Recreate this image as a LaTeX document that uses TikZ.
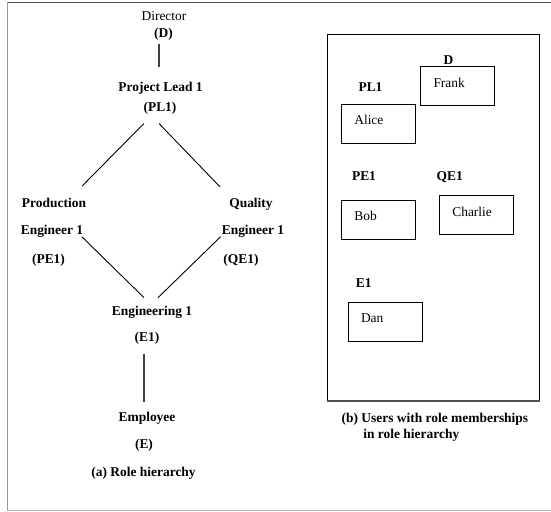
\documentclass[tikz,border=0pt]{standalone}
\usepackage{fontspec}
\setmainfont{Liberation Serif}
\usetikzlibrary{calc,positioning}
\definecolor{frameDark}{HTML}{505050}
\definecolor{frameGray}{HTML}{9A9A9A}
\definecolor{frameLight}{HTML}{BBBBBB}

\tikzset{
  boldlabel/.style={anchor=base,inner sep=0pt,font=\fontsize{13.5}{16}\selectfont\bfseries},
  thinlabel/.style={anchor=base,inner sep=0pt,font=\fontsize{13.5}{16}\selectfont},
  link/.style={line width=0.9bp},
  stem/.style={line width=1.4bp,black!75},
  userbox/.style={draw,line width=0.9bp,minimum width=74bp,minimum height=39bp,
    text width=48bp,align=left,inner xsep=13bp,inner ysep=0pt,
    text height=9bp,text depth=7bp,font=\fontsize{13.5}{16}\selectfont},
}

\begin{document}
\begin{tikzpicture}[x=1bp,y=-1bp]
\useasboundingbox (0,0) rectangle (551,512);
% outer frame (open on the right)
\draw[frameDark,line width=1.5bp] (7,2.5) -- (551,2.5);
\draw[frameGray,line width=1bp] (7,2.5) -- (7,510);
\draw[frameLight,line width=1bp] (7,510) -- (551,510);

% (a) role hierarchy
\node[thinlabel] (dir) at (164,20.5) {Director};
\node[boldlabel] (dA) at (163.5,37.5) {(D)};
\node[boldlabel] (pl) at (160.5,91.5) {Project Lead 1};
\node[boldlabel] (plA) at (160,111.5) {(PL1)};
\node[boldlabel] (prod) at (54,207.5) {Production};
\node[boldlabel] (prodE) at (52,234) {Engineer 1};
\node[boldlabel] (prodA) at (48.5,263) {(PE1)};
\node[boldlabel] (qual) at (251,207.5) {Quality};
\node[boldlabel] (qualE) at (253,234) {Engineer 1};
\node[boldlabel] (qualA) at (241,263) {(QE1)};
\node[boldlabel] (eng) at (152,315.5) {Engineering 1};
\node[boldlabel] (engA) at (147,341.5) {(E1)};
\node[boldlabel] (emp) at (147,421.5) {Employee};
\node[boldlabel] (empA) at (144,448.5) {(E)};
\node[boldlabel] (capA) at (143.5,476.5) {(a) Role hierarchy};

\draw[stem] ($(dA.south)+(-4.5,3)$) -- ($(pl.north)+(-1.5,-15)$);
\draw[link] ($(plA.south west)+(0.5,9)$) -- ($(prod.north east)+(-4,-12)$);
\draw[link] ($(plA.south)+(-1,9)$) -- ($(qual.north west)+(-9,-11)$);
\draw[link] ($(prodE.base east)+(-1.6,2.7)$) -- ($(eng.north)+(-8,-8.3)$);
\draw[link] ($(qualE.base west)+(-1,2.7)$) -- ($(eng.north)+(6,-8.3)$);
\draw[stem] ($(engA.south)+(-3,9)$) -- ($(emp.north)+(-3,-10)$);

% (b) users with role memberships
\draw[line width=1bp] (327,401) -- (327,34.5) -- (539.5,34.5) -- (539.5,401);
\draw[frameDark,line width=2bp] (326.5,401) -- (540,401);

\node[boldlabel] (dB) at (448.5,64.5) {D};
\node[userbox] (frank) at (457.5,86.2) {Frank};
\node[boldlabel] (plB) at (370.5,92) {PL1};
\node[userbox] (alice) at (378.3,123.8) {Alice};
\node[boldlabel] (peB) at (364,180.5) {PE1};
\node[boldlabel] (qeB) at (449.7,180.5) {QE1};
\node[userbox] (bob) at (378.3,219.5) {Bob};
\node[userbox] (charlie) at (476.3,215.3) {Charlie};
\node[boldlabel] (eB) at (363.8,287.5) {E1};
\node[userbox] (dan) at (385,321.5) {Dan};

\node[boldlabel] (capB) at (434.9,422.2) {(b) Users with role memberships};
\node[boldlabel] (capB2) at (411.3,438.8) {in role hierarchy};
\end{tikzpicture}
\end{document}
